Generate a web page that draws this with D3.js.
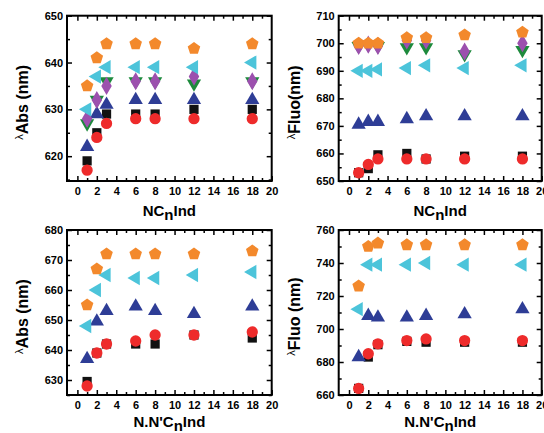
<!DOCTYPE html>
<html>
<head>
<meta charset="utf-8">
<script src="https://cdn.jsdelivr.net/npm/d3@7"></script>
<style>
  body { margin: 0; background: #fff; }
  svg { display: block; }
  text { font-family: "Liberation Sans", Arial, sans-serif; font-weight: bold; }
</style>
</head>
<body>
<svg id="chart" width="544" height="433"></svg>
<script>
// ---- data ----
const xValues = [1, 2, 3, 6, 8, 12, 18];
const xTicks = [0, 2, 4, 6, 8, 10, 12, 14, 16, 18, 20];

// Panel A: lambda Abs vs NCnInd
const absNC_black  = [619, 625, 629, 629, 629, 630, 630];
const absNC_red    = [617, 624, 627, 628, 628, 628, 628];
const absNC_blue   = [622, 629, 631, 632, 632, 632, 632];
const absNC_green  = [627, 632, 636, 636, 636, 635.5, 636];
const absNC_purple = [628, 632, 635, 636, 636, 637, 636];
const absNC_cyan   = [630, 637, 639, 639, 639, 639, 640];
const absNC_orange = [635, 641, 644, 644, 644, 643, 644];
const absNC_yTicks = [620, 630, 640, 650];

// Panel B: lambda Fluo vs NCnInd
const fluoNC_black  = [653, 654.5, 659.5, 660, 658, 659, 659];
const fluoNC_red    = [653, 656, 658, 658, 658, 658, 658];
const fluoNC_blue   = [670.5, 671.5, 671.5, 672.5, 673.5, 673.5, 673.5];
const fluoNC_green  = [699, 699.5, 699, 698.5, 698.5, 696, 697.5];
const fluoNC_purple = [699, 699.5, 699, 701, 701, 697, 700];
const fluoNC_cyan   = [690, 690, 690.5, 691, 692, 691, 692];
const fluoNC_orange = [700, 700, 700, 702, 702, 703, 704];
const fluoNC_yTicks = [650, 660, 670, 680, 690, 700, 710];

// Panel C: lambda Abs vs N,N'CnInd
const absNN_black  = [629.5, 639, 642, 642, 642, 645, 644];
const absNN_red    = [628, 639, 642, 643, 645, 645, 646];
const absNN_blue   = [637, 649.5, 653, 654.5, 653, 652, 654.5];
const absNN_cyan   = [648, 660, 665, 664, 664, 665, 666];
const absNN_orange = [655, 667, 672, 672, 672, 672, 673];
const absNN_yTicks = [630, 640, 650, 660, 670, 680];

// Panel D: lambda Fluo vs N,N'CnInd
const fluoNN_black  = [664, 683, 690.5, 692.5, 692, 692, 692];
const fluoNN_red    = [664, 685, 691, 693, 694, 693, 693];
const fluoNN_blue   = [683, 708, 707, 707, 708, 709, 712];
const fluoNN_cyan   = [712, 739, 739, 739, 740, 739, 739];
const fluoNN_orange = [726, 750, 752, 751, 751, 751, 751];
const fluoNN_yTicks = [660, 680, 700, 720, 740, 760];

// ---- styling ----
const colors = {
  black: "#111111", red: "#ee2b2b", blue: "#2e3d96", green: "#1d8a3c",
  purple: "#9c50ae", cyan: "#4cc4da", orange: "#f3892c"
};
const shapes = {
  black: "square", red: "circle", blue: "up", green: "down",
  purple: "diamond", cyan: "left", orange: "pentagon"
};

function markerPath(kind) {
  if (kind === "square") return d3.symbol(d3.symbolSquare, 85)();
  if (kind === "circle") return d3.symbol(d3.symbolCircle, 100)();
  if (kind === "diamond") return d3.symbol(d3.symbolDiamond, 95)();
  if (kind === "up" || kind === "down" || kind === "left") {
    return d3.symbol(d3.symbolTriangle, 88)();
  }
  if (kind === "pentagon") {
    const r = 6.6;
    const pts = d3.range(5).map(k => {
      const a = (-90 + k * 72) * Math.PI / 180;
      return [r * Math.cos(a), r * Math.sin(a)];
    });
    return d3.line()(pts) + "Z";
  }
}
function markerRotate(kind) {
  if (kind === "down") return 180;
  if (kind === "left") return -90;
  return 0;
}

const svg = d3.select("#chart");

function panel(opts) {
  const { x0, x1, y0, y1, yDomain, yTicks, yMinorStep, series, xTitle, xTitleOffset, yTitleSub, yTitleRest } = opts;
  const g = svg.append("g");
  const x = d3.scaleLinear().domain([-1.07, 20]).range([x0, x1]);
  const y = d3.scaleLinear().domain(yDomain).range([y1, y0]);

  const xMinor = d3.range(1, 20, 2);
  const yMinorVals = d3.range(Math.ceil(yDomain[0] / yMinorStep) * yMinorStep, yDomain[1] + 0.001, yMinorStep)
    .filter(v => !yTicks.includes(v));

  // bottom axis
  g.append("g").attr("transform", `translate(0,${y1})`)
    .call(d3.axisBottom(x).tickValues(xTicks).tickSize(-5).tickPadding(6).tickSizeOuter(0))
    .call(s => s.select(".domain").remove())
    .call(s => s.selectAll("text").attr("font-size", 11).attr("fill", "#000"));
  g.append("g").attr("transform", `translate(0,${y1})`)
    .call(d3.axisBottom(x).tickValues(xMinor).tickSize(-3).tickFormat("").tickSizeOuter(0))
    .call(s => s.select(".domain").remove());
  // top axis
  g.append("g").attr("transform", `translate(0,${y0})`)
    .call(d3.axisTop(x).tickValues(xTicks.filter(v => v < 20)).tickSize(-5).tickFormat("").tickSizeOuter(0))
    .call(s => s.select(".domain").remove());
  g.append("g").attr("transform", `translate(0,${y0})`)
    .call(d3.axisTop(x).tickValues(xMinor).tickSize(-3).tickFormat("").tickSizeOuter(0))
    .call(s => s.select(".domain").remove());
  // left axis
  g.append("g").attr("transform", `translate(${x0},0)`)
    .call(d3.axisLeft(y).tickValues(yTicks).tickSize(-5).tickPadding(4).tickSizeOuter(0))
    .call(s => s.select(".domain").remove())
    .call(s => s.selectAll("text").attr("font-size", 11).attr("fill", "#000"));
  g.append("g").attr("transform", `translate(${x0},0)`)
    .call(d3.axisLeft(y).tickValues(yMinorVals).tickSize(-3).tickFormat("").tickSizeOuter(0))
    .call(s => s.select(".domain").remove());
  // right axis
  g.append("g").attr("transform", `translate(${x1},0)`)
    .call(d3.axisRight(y).tickValues(yTicks).tickSize(-5).tickFormat("").tickSizeOuter(0))
    .call(s => s.select(".domain").remove());
  g.append("g").attr("transform", `translate(${x1},0)`)
    .call(d3.axisRight(y).tickValues(yMinorVals).tickSize(-3).tickFormat("").tickSizeOuter(0))
    .call(s => s.select(".domain").remove());
  g.selectAll(".tick line").attr("stroke", "#000").attr("stroke-width", 1.5);

  // frame
  g.append("rect").attr("x", x0).attr("y", y0).attr("width", x1 - x0).attr("height", y1 - y0)
    .attr("fill", "none").attr("stroke", "#000").attr("stroke-width", 2);

  // markers
  series.forEach(s => {
    const kind = shapes[s.key];
    g.append("g").selectAll("path").data(s.values).join("path")
      .attr("d", markerPath(kind))
      .attr("transform", (d, i) => `translate(${x(xValues[i])},${y(d)}) rotate(${markerRotate(kind)})`)
      .attr("fill", colors[s.key]);
  });

  // x title
  const xt = g.append("text").attr("x", (x0 + x1) / 2).attr("y", y1 + xTitleOffset)
    .attr("text-anchor", "middle").attr("font-size", 15).attr("fill", "#000");
  xTitle.forEach(p => {
    const t = xt.append("tspan").text(p.t);
    if (p.sub) t.attr("dy", 4); else if (p.after) t.attr("dy", -4);
  });

  // y title
  const yt = g.append("text")
    .attr("transform", `translate(${x0 - 39},${(y0 + y1) / 2 + 4}) rotate(-90)`)
    .attr("text-anchor", "middle").attr("font-size", 16).attr("fill", "#000");
  yt.append("tspan").text("λ").attr("font-size", 11).attr("font-weight", "normal").attr("dy", -5);
  yt.append("tspan").text(yTitleSub).attr("dy", 5);
  yt.append("tspan").text(yTitleRest);
}

const ncTitle = [{ t: "NC" }, { t: "n", sub: true }, { t: "Ind", after: true }];
const nnTitle = [{ t: "N.N'C" }, { t: "n", sub: true }, { t: "Ind", after: true }];

panel({
  x0: 67, x1: 271.7, y0: 15.7, y1: 181, yDomain: [614.7, 650], yTicks: absNC_yTicks, yMinorStep: 5,
  xTitle: ncTitle, xTitleOffset: 35, yTitleSub: "Abs", yTitleRest: " (nm)",
  series: [
    { key: "black", values: absNC_black }, { key: "red", values: absNC_red },
    { key: "blue", values: absNC_blue }, { key: "green", values: absNC_green },
    { key: "purple", values: absNC_purple }, { key: "cyan", values: absNC_cyan },
    { key: "orange", values: absNC_orange }
  ]
});
panel({
  x0: 338.7, x1: 541.7, y0: 15.7, y1: 181, yDomain: [650, 710], yTicks: fluoNC_yTicks, yMinorStep: 5,
  xTitle: ncTitle, xTitleOffset: 35, yTitleSub: "Fluo", yTitleRest: "(nm)",
  series: [
    { key: "black", values: fluoNC_black }, { key: "red", values: fluoNC_red },
    { key: "blue", values: fluoNC_blue }, { key: "green", values: fluoNC_green },
    { key: "purple", values: fluoNC_purple }, { key: "cyan", values: fluoNC_cyan },
    { key: "orange", values: fluoNC_orange }
  ]
});
panel({
  x0: 67, x1: 271.7, y0: 230, y1: 395, yDomain: [625, 680], yTicks: absNN_yTicks, yMinorStep: 5,
  xTitle: nnTitle, xTitleOffset: 32, yTitleSub: "Abs", yTitleRest: " (nm)",
  series: [
    { key: "black", values: absNN_black }, { key: "red", values: absNN_red },
    { key: "blue", values: absNN_blue }, { key: "cyan", values: absNN_cyan },
    { key: "orange", values: absNN_orange }
  ]
});
panel({
  x0: 338.7, x1: 541.7, y0: 230, y1: 395, yDomain: [660, 760], yTicks: fluoNN_yTicks, yMinorStep: 10,
  xTitle: nnTitle, xTitleOffset: 32, yTitleSub: "Fluo", yTitleRest: " (nm)",
  series: [
    { key: "black", values: fluoNN_black }, { key: "red", values: fluoNN_red },
    { key: "blue", values: fluoNN_blue }, { key: "cyan", values: fluoNN_cyan },
    { key: "orange", values: fluoNN_orange }
  ]
});
</script>
</body>
</html>
